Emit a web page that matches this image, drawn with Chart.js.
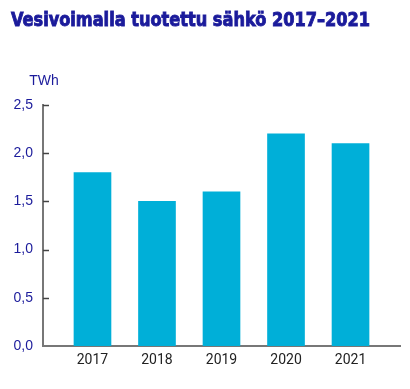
<!DOCTYPE html>
<html>
<head>
<meta charset="utf-8">
<script src="https://cdn.jsdelivr.net/npm/chart.js@4/dist/chart.umd.min.js"></script>
<style>
  html, body { margin: 0; padding: 0; background: #fff; }
  #wrap { width: 410px; height: 389px; }
</style>
</head>
<body>
<div id="wrap"><canvas id="chart" width="410" height="389"></canvas></div>
<script>
// Data
const years = [2017, 2018, 2019, 2020, 2021];
const twh = [1.8, 1.5, 1.6, 2.2, 2.1];
const yTicks = [0, 0.5, 1.0, 1.5, 2.0, 2.5];

const titleText = 'Vesivoimalla tuotettu sähkö 2017–2021';
const unitText = 'TWh';
const navy = '#1b1b9b';

// heavy condensed title, short inside ticks on the y axis, and the unit label
const axisExtras = {
    id: 'axisExtras',
    afterDraw(chart) {
        const ctx = chart.ctx;
        const y = chart.scales.y;
        const x0 = chart.chartArea.left;
        ctx.save();

        // title
        ctx.font = 'bold 20px "DejaVu Sans Condensed", "DejaVu Sans", sans-serif';
        const w = ctx.measureText(titleText).width;
        ctx.translate(11, 26);
        ctx.scale(359 / w, 1);
        ctx.fillStyle = navy;
        ctx.strokeStyle = navy;
        ctx.lineWidth = 0.9;
        ctx.textBaseline = 'alphabetic';
        ctx.textAlign = 'left';
        ctx.fillText(titleText, 0, 0);
        ctx.strokeText(titleText, 0, 0);
        ctx.setTransform(1, 0, 0, 1, 0, 0);

        // ticks
        ctx.strokeStyle = '#444';
        ctx.lineWidth = 1.5;
        y.ticks.forEach(t => {
            if (t.value === 0) return;
            const py = Math.round(y.getPixelForValue(t.value)) + 0.5;
            ctx.beginPath();
            ctx.moveTo(x0, py);
            ctx.lineTo(x0 + 6, py);
            ctx.stroke();
        });

        // unit
        ctx.fillStyle = navy;
        ctx.font = '14px "Liberation Sans", Arial, sans-serif';
        ctx.textAlign = 'center';
        ctx.fillText(unitText, x0 + 1, chart.chartArea.top - 20);
        ctx.restore();
    }
};

new Chart(document.getElementById('chart'), {
    type: 'bar',
    data: {
        datasets: [{
            data: years.map((yr, i) => ({ x: yr, y: twh[i] })),
            backgroundColor: '#00afd8',
            borderWidth: 0,
            barThickness: 37
        }]
    },
    options: {
        responsive: false,
        animation: false,
        layout: { padding: { left: 0, right: 10, top: 105, bottom: 0 } },
        plugins: {
            legend: { display: false },
            tooltip: { enabled: false },
            title: { display: false }
        },
        scales: {
            x: {
                type: 'linear',
                offset: false,
                min: 2016.233,
                max: 2021.767,
                grid: { display: false, drawTicks: false },
                border: { display: true, color: '#777', width: 2 },
                afterBuildTicks(scale) {
                    scale.ticks = years.map(v => ({ value: v }));
                },
                afterFit(scale) { scale.height = 43; },
                ticks: {
                    padding: 6,
                    color: '#222',
                    font: { family: 'Roboto, "Liberation Sans", sans-serif', size: 14 },
                    callback: v => String(v)
                }
            },
            y: {
                min: 0,
                max: 2.5,
                grid: { display: false, drawTicks: false },
                border: { display: true, color: '#777', width: 2 },
                afterBuildTicks(scale) {
                    scale.ticks = yTicks.map(v => ({ value: v }));
                },
                afterFit(scale) { scale.width = 43; },
                ticks: {
                    padding: 10,
                    color: navy,
                    font: { family: '"Liberation Sans", Arial, sans-serif', size: 14 },
                    callback: v => v.toFixed(1).replace('.', ',')
                }
            }
        }
    },
    plugins: [axisExtras]
});
</script>
</body>
</html>
